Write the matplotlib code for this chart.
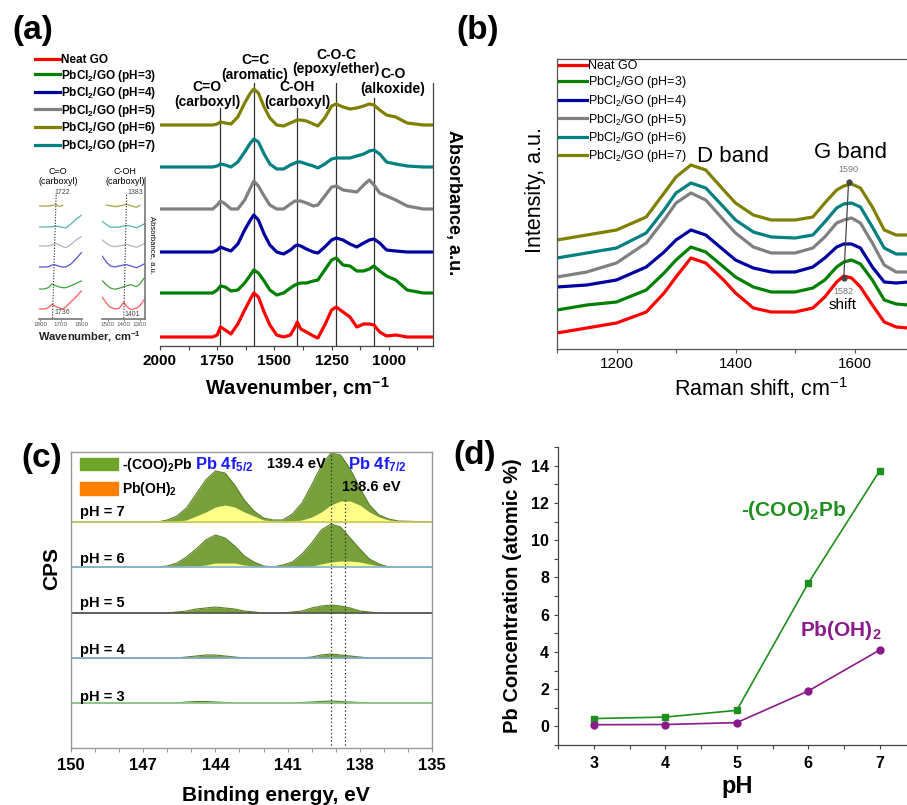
"""
Four-panel figure: FTIR (a), Raman (b), XPS Pb 4f (c) and Pb concentration vs pH (d)
for PbCl2/GO samples. Values are read off the reference figure.
"""
import matplotlib
matplotlib.use("Agg")
import matplotlib.pyplot as plt
from matplotlib.ticker import MultipleLocator
from matplotlib.lines import Line2D
from matplotlib.patches import Patch

W, H = 907, 805

plt.rcParams["font.family"] = ["Liberation Sans", "DejaVu Sans"]
plt.rcParams["mathtext.fontset"] = "custom"
plt.rcParams["mathtext.rm"] = "Liberation Sans"
plt.rcParams["mathtext.bf"] = "Liberation Sans:bold"
plt.rcParams["mathtext.default"] = "regular"

# ---------------- panel (a): FTIR ----------------
FTIR_WN = [2000, 1850, 1770, 1750, 1736, 1715, 1690, 1660, 1630, 1605,
           1590, 1570, 1545, 1520, 1490, 1460, 1430, 1410, 1400, 1385,
           1360, 1330, 1310, 1280, 1250, 1230, 1200, 1170, 1140, 1110,
           1085, 1065, 1040, 1010, 970, 920, 850, 810]
FTIR_NEAT = [0, 0, 0, 2, 10, 7, 3, 13, 27, 38, 44, 40, 25, 12, 2, 0, 2, 10, 15, 8,
             5, 1, -1, 12, 27, 30, 25, 20, 10, 13, 13, 12, 5, 1, 2, 0, 0, 0]
FTIR_PH3 = [0, 0, 0, 3, 7, 6, 2, 3, 10, 18, 23, 20, 12, 3, -2, 0, 5, 8, 9, 10,
            10, 12, 13, 23, 33, 35, 28, 27, 22, 22, 24, 27, 22, 17, 13, 3, 0, 0]
FTIR_PH4 = [0, 0, 0, 2, 5, 3, 1, 8, 22, 32, 37, 32, 18, 7, 0, -2, 2, 6, 7, 6,
            3, 0, -1, 5, 12, 14, 12, 8, 5, 9, 12, 13, 9, 2, 1, 0, 0, 0]
FTIR_PH5 = [0, 0, 0, 4, 8, 5, 0, 0, 9, 21, 28, 23, 13, 4, 0, 0, 5, 8, 8, 8,
            6, 3, 4, 13, 22, 23, 19, 18, 17, 24, 29, 24, 16, 13, 9, 3, 0, 0]
FTIR_PH6 = [0, 0, 0, 1, 3, 2, 1, 8, 22, 32, 36, 32, 18, 7, 0, -1, 2, 4, 5, 5,
            4, 1, -1, 7, 19, 21, 18, 16, 17, 19, 21, 20, 15, 10, 8, 2, 0, 0]
FTIR_PH7 = [0, 0, 0, 1, 3, 2, 0, 5, 15, 24, 28, 25, 13, 3, -2, -2, 2, 4, 5, 5,
            3, 1, -1, 3, 8, 9, 9, 9, 11, 13, 16, 17, 13, 5, 3, 1, 0, 0]
FTIR_LABELS = ["Neat GO", "PbCl$_2$/GO (pH=3)", "PbCl$_2$/GO (pH=4)",
               "PbCl$_2$/GO (pH=5)", "PbCl$_2$/GO (pH=6)", "PbCl$_2$/GO (pH=7)"]
FTIR_COLORS = ["#ff0000", "#008000", "#0000a0", "#808080", "#808000", "#008080"]
FTIR_OFFSETS = [9, 53, 94, 137, 221, 179]
FTIR_TICKS = [2000, 1750, 1500, 1250, 1000]

PEAK_WN = [1736, 1590, 1400, 1230, 1065]
PEAK_LABELS = ["C=O\n(carboxyl)", "C=C\n(aromatic)", "C-OH\n(carboxyl)",
               "C-O-C\n(epoxy/ether)", "C-O\n(alkoxide)"]

# insets: zoom on C=O and C-OH regions (bottom to top: neat, pH3, pH4, pH5, pH7, pH6)
INSET1_WN = [1805, 1780, 1760, 1742, 1725, 1705, 1690, 1675, 1650, 1625, 1600]
INSET1_Y = [[0, 0, 1.3, 4.7, 2.7, 0.7, 0, 2.3, 7.3, 12.3, 18],
            [0, 0, 1.3, 5, 3.3, 2, 1.3, 1.3, 3.3, 5.7, 8],
            [0, 0, 0.3, 2, 2, 0.5, 0, 0, 3, 8.5, 14.3],
            [0, 0, 0, 1, 2.7, 1, -0.7, -1.7, 1.7, 6, 9.3],
            [0, 0, 0, 0.3, 1, 0.3, -0.3, -1, 3, 8, 11.7],
            [0, 0, 0, 0.5, 1.3, -0.5, 0.8]]
INSET2_WN = [1535, 1510, 1485, 1455, 1430, 1401, 1383, 1355, 1322, 1300, 1270]
INSET2_Y = [[11.7, 6, 1.7, 0, 0.7, 6.7, 2.7, -0.7, 0.7, 3.3, 10],
            [8.3, 4.3, 1, -0.3, 0.7, 2.3, 3.3, 4.3, 2.3, 5, 11.7],
            [10.7, 5, 1, 0, 1, 2, 2.3, 1, -0.7, 0.7, 3.3],
            [6, 2.7, 0.3, -0.7, 0, 1, 1.7, 0.3, -1.3, 0, 2.7],
            [5.7, 2.3, 0, -0.3, 0, 1, 1.7, 0.7, -0.7, 0.7, 3.3],
            [1, 0.3, -0.7, 0, 1, 1.7, 0.3, -1.3, 0.7]]
INSET_COLORS = ["#ff5a5a", "#3fa33f", "#5555d5", "#b5b5b5", "#55b5b5", "#a5a545"]
INSET_OFFSETS = [10, 30, 52, 73, 92, 113]

# ---------------- panel (b): Raman ----------------
RAMAN_X = [1100, 1150, 1200, 1250, 1280, 1300, 1325, 1350, 1380, 1400, 1430, 1460,
           1500, 1530, 1550, 1570, 1582, 1595, 1610, 1630, 1650, 1670, 1690]
RAMAN_NEAT = [16, 21, 26, 37, 56, 72, 91, 86, 69, 56, 41, 37, 37, 41, 52, 67, 73, 71, 62, 44, 27, 22, 21]
RAMAN_PH3 = [39, 44, 47, 59, 76, 89, 102, 97, 82, 72, 62, 57, 57, 61, 69, 82, 87, 89, 85, 69, 49, 45, 44]
RAMAN_PH4 = [62, 64, 69, 82, 97, 109, 119, 114, 99, 89, 81, 77, 77, 82, 91, 102, 105, 105, 101, 82, 67, 66, 67]
RAMAN_PH5 = [72, 77, 86, 106, 129, 146, 156, 149, 129, 116, 102, 96, 96, 101, 112, 126, 129, 131, 126, 106, 84, 77, 77]
RAMAN_PH6 = [91, 96, 101, 116, 139, 156, 166, 161, 142, 129, 117, 112, 111, 114, 127, 141, 145, 146, 142, 122, 101, 95, 95]
RAMAN_PH7 = [109, 114, 119, 132, 156, 172, 184, 179, 159, 146, 134, 129, 129, 132, 146, 159, 163, 165, 161, 142, 119, 114, 114]
RAMAN_COLORS = ["#ff0000", "#008000", "#0000a0", "#808080", "#008080", "#808000"]
RAMAN_TICKS = [1200, 1400, 1600]
G_SHIFT_X = [1590, 1582]
G_SHIFT_Y = [167, 71]

# ---------------- panel (c): XPS Pb 4f ----------------
XPS_E = [150, 146.8, 146.4, 146.0, 145.6, 145.2, 144.8, 144.4, 144.0, 143.6,
         143.2, 142.8, 142.4, 142.0, 141.6, 141.2, 140.8, 140.4, 140.0, 139.6,
         139.2, 138.8, 138.4, 138.0, 137.6, 137.2, 136.8, 136.4, 135]
XPS_TOTAL_PH7 = [0, 0, 0, 2, 6, 14, 28, 42, 51, 49, 37, 22, 11, 4, 2, 2, 8, 19, 37, 56,
                 69, 67, 53, 34, 17, 7, 3, 1, 0]
XPS_OH_PH7 = [0, 0, 0, 0, 1, 2, 6, 10, 15, 17, 15, 10, 6, 2, 1, 0, 1, 2, 5, 10,
              17, 21, 21, 17, 10, 5, 2, 1, 0]
XPS_TOTAL_PH6 = [0, 0, 0, 1, 4, 10, 18, 27, 32, 29, 21, 11, 5, 1, 0, 2, 5, 13, 24, 37,
                 43, 40, 29, 18, 8, 3, 0, 0, 0]
XPS_OH_PH6 = [0, 0, 0, 0, 0, 1, 1, 2, 4, 4, 4, 2, 1, 0, 0, 0, 0, 0, 1, 3,
              5, 6, 6, 5, 3, 1, 0, 0, 0]
XPS_TOTAL_PH5 = [0, 0, 0, 0, 1, 2, 4, 5, 6, 5, 4, 2, 1, 0, 0, 0, 1, 2, 5, 7,
                 8, 7, 5, 2, 1, 0, 0, 0, 0]
XPS_TOTAL_PH4 = [0, 0, 0, 0, 0, 1, 2, 3, 3, 2, 1, 0, 0, 0, 0, 0, 0, 0, 1, 3,
                 4, 3, 2, 1, 0, 0, 0, 0, 0]
XPS_TOTAL_PH3 = [0, 0, 0, 0, 0, 1, 1.5, 1.5, 1, 0.5, 0, 0, 0, 0, 0, 0, 0, 0.5, 1, 1.5,
                 2, 1.5, 1, 0.5, 0, 0, 0, 0, 0]
XPS_ZERO = [0] * len(XPS_E)
XPS_PH_LABELS = ["pH = 7", "pH = 6", "pH = 5", "pH = 4", "pH = 3"]
XPS_BASE = [226, 181, 135, 90, 45]
XPS_LINE_COLORS = ["#c8c85a", "#80b4d4", "#555555", "#80aad4", "#8cc88c"]
XPS_TICKS = [150, 147, 144, 141, 138, 135]
XPS_MARKS = [139.2, 138.6]

# ---------------- panel (d): concentration ----------------
PH = [3, 4, 5, 6, 7]
CONC_COO = [0.42, 0.5, 0.86, 7.69, 13.73]
CONC_OH = [0.09, 0.1, 0.2, 1.9, 4.1]


def px_axes(fig, x0, y0, x1, y1):
    # axes from pixel box (top-left origin)
    return fig.add_axes([x0 / W, 1 - y1 / H, (x1 - x0) / W, (y1 - y0) / H])


def ftext(fig, x, y, s, **kw):
    kw.setdefault("ha", "center")
    kw.setdefault("va", "center")
    return fig.text(x / W, 1 - y / H, s, **kw)


def panel_a(fig):
    ax = px_axes(fig, 160, 83, 433, 346)
    series = [FTIR_NEAT, FTIR_PH3, FTIR_PH4, FTIR_PH5, FTIR_PH6, FTIR_PH7]
    for vals, off, color in zip(series, FTIR_OFFSETS, FTIR_COLORS):
        ax.plot(FTIR_WN, [v + off for v in vals], color=color, lw=2.3,
                solid_joinstyle="round", solid_capstyle="round")
    ax.set_xlim(2000, 807)
    ax.set_ylim(0, 263)
    tops = [0.905, 1.0, 0.905, 1.0, 0.943]
    for wn, top in zip(PEAK_WN, tops):
        ax.axvline(wn, ymin=0, ymax=top, color="#333333", lw=0.9, zorder=0)
    for s in ["left", "top"]:
        ax.spines[s].set_visible(False)
    for s in ["bottom", "right"]:
        ax.spines[s].set_color("#444444")
        ax.spines[s].set_linewidth(0.9)
    ax.yaxis.set_visible(False)
    ax.set_xticks(FTIR_TICKS, [str(t) for t in FTIR_TICKS], fontweight="bold", fontsize=11)
    ax.xaxis.set_minor_locator(MultipleLocator(125))
    ax.tick_params(axis="x", which="both", direction="out", length=3, width=0.8,
                   color="#444444", pad=3)

    label_pos = [(207, 94.5), (255, 67.5), (297, 94.5), (336, 62), (393, 81.5)]
    for text, (x, y) in zip(PEAK_LABELS, label_pos):
        ftext(fig, x, y, text, fontsize=10, fontweight="bold", linespacing=1.05)

    ftext(fig, 297, 388, "Wavenumber, cm$^{-1}$", fontsize=14.5, fontweight="bold")
    ftext(fig, 453, 203, "Absorbance, a.u.", fontsize=13, fontweight="bold", rotation=-90)
    ftext(fig, 33, 30, "(a)", fontsize=24, fontweight="bold")

    handles = [Line2D([], [], color=c, lw=2.3) for c in FTIR_COLORS]
    fig.legend(handles, FTIR_LABELS, loc="upper left",
               bbox_to_anchor=(35 / W, 1 - 54 / H), frameon=False,
               prop={"weight": "bold", "size": 8.5}, handlelength=2.1,
               handletextpad=0.1, labelspacing=0.13, borderpad=0, borderaxespad=0)

    # inset 1: C=O region
    a1 = px_axes(fig, 39, 178, 82, 319)
    for wn_vals, off, color in zip(INSET1_Y, INSET_OFFSETS, INSET_COLORS):
        a1.plot(INSET1_WN[:len(wn_vals)], [v + off for v in wn_vals], color=color, lw=0.9)
    a1.plot([1722, 1740], [124, 0], color="#222222", lw=0.8, ls=(0, (1, 1.5)))
    a1.set_xlim(1805, 1597)
    a1.set_ylim(0, 141)
    # inset 2: C-OH region
    a2 = px_axes(fig, 102, 178, 145, 319)
    for wn_vals, off, color in zip(INSET2_Y, INSET_OFFSETS, INSET_COLORS):
        xs = INSET2_WN if len(wn_vals) == len(INSET2_WN) else INSET2_WN[1:1 + len(wn_vals)]
        a2.plot(xs, [v + off for v in wn_vals], color=color, lw=0.9)
    a2.plot([1383, 1401], [124, 0], color="#222222", lw=0.8, ls=(0, (1, 1.5)))
    a2.set_xlim(1537, 1268)
    a2.set_ylim(0, 141)
    for a, ticks in [(a1, [1800, 1700, 1600]), (a2, [1500, 1400, 1300])]:
        for s in ["left", "top", "right"]:
            a.spines[s].set_visible(False)
        a.spines["bottom"].set_color("#777777")
        a.spines["bottom"].set_linewidth(1.2)
        a.set_yticks([])
        a.set_xticks(ticks, [str(t) for t in ticks], fontsize=4.5, color="#555555")
        a.tick_params(axis="x", length=1.5, width=0.6, color="#777777", pad=1)
        a.patch.set_alpha(0)
    a2.spines["right"].set_visible(True)
    a2.spines["right"].set_color("#777777")
    a2.spines["right"].set_linewidth(1.2)

    ftext(fig, 58, 172, "C=O", fontsize=6.5)
    ftext(fig, 58, 182, "(carboxyl)", fontsize=6.5)
    ftext(fig, 125, 172, "C-OH", fontsize=6.5)
    ftext(fig, 125, 182, "(carboxyl)", fontsize=6.5)
    ftext(fig, 62, 193, "1722", fontsize=5, color="#444444")
    ftext(fig, 62, 312, "1736", fontsize=5, color="#444444")
    ftext(fig, 135, 193, "1383", fontsize=5, color="#444444")
    ftext(fig, 132, 315, "1401", fontsize=5, color="#444444")
    ftext(fig, 152, 245, "Absorbance, a.u.", fontsize=5.5, rotation=-90)
    ftext(fig, 89, 337, "Wavenumber, cm$^{-1}$", fontsize=8, fontweight="bold",
          color="#222222")


def panel_b(fig):
    ax = px_axes(fig, 557, 59, 973.5, 349)
    series = [RAMAN_NEAT, RAMAN_PH3, RAMAN_PH4, RAMAN_PH5, RAMAN_PH6, RAMAN_PH7]
    for vals, color in zip(series, RAMAN_COLORS):
        ax.plot(RAMAN_X, vals, color=color, lw=2.3, solid_joinstyle="round")
    ax.plot(G_SHIFT_X, G_SHIFT_Y, color="#444444", lw=0.9, marker="o", ms=3.5)
    ax.set_xlim(1100, 1800)
    ax.set_ylim(0, 290)
    for s in ax.spines.values():
        s.set_color("#555555")
        s.set_linewidth(0.9)
    ax.set_yticks([])
    ax.set_xticks(RAMAN_TICKS, [str(t) for t in RAMAN_TICKS], fontsize=11)
    ax.xaxis.set_minor_locator(MultipleLocator(100))
    ax.tick_params(axis="x", which="both", direction="out", length=3, width=0.8,
                   color="#555555", pad=3)

    handles = [Line2D([], [], color=c, lw=2.3) for c in RAMAN_COLORS]
    ax.legend(handles, FTIR_LABELS, loc="upper left",
              bbox_to_anchor=(559 / W, 1 - 60 / H), bbox_transform=fig.transFigure,
              frameon=False, fontsize=9, handlelength=2.2, handletextpad=0.15,
              labelspacing=0.2, borderpad=0, borderaxespad=0)

    ftext(fig, 697, 157, "D band", fontsize=16, ha="left")
    ftext(fig, 851, 152, "G band", fontsize=16)
    ftext(fig, 848, 170, "1590", fontsize=6.5, color="#777777")
    ftext(fig, 843, 291, "1582", fontsize=6.5, color="#777777")
    ftext(fig, 843, 305, "shift", fontsize=11)
    ftext(fig, 761, 388, "Raman shift, cm$^{-1}$", fontsize=15.5)
    ftext(fig, 535, 190, "Intensity, a.u.", fontsize=15.5, rotation=90)
    ftext(fig, 478, 30, "(b)", fontsize=24, fontweight="bold")


def panel_c(fig):
    ax = px_axes(fig, 71, 452, 432, 748)
    totals = [XPS_TOTAL_PH7, XPS_TOTAL_PH6, XPS_TOTAL_PH5, XPS_TOTAL_PH4, XPS_TOTAL_PH3]
    ohs = [XPS_OH_PH7, XPS_OH_PH6, XPS_ZERO, XPS_ZERO, XPS_ZERO]
    for tot, oh, base, lc in zip(totals, ohs, XPS_BASE, XPS_LINE_COLORS):
        ax.fill_between(XPS_E, base, [base + v for v in tot], color="#78a03a", lw=0)
        ax.fill_between(XPS_E, base, [base + v for v in oh], color="#ffff88", lw=0)
        ax.plot(XPS_E, [base + v for v in tot], color="#5d7f2a", lw=0.8)
        ax.axhline(base, color=lc, lw=1.2)
    ax.axvline(XPS_MARKS[0], ymin=0.01, ymax=1.0, color="#222222", lw=0.9, ls=(0, (1, 2)))
    ax.axvline(XPS_MARKS[1], ymin=0.01, ymax=0.84, color="#222222", lw=0.9, ls=(0, (1, 2)))
    ax.set_xlim(150, 135)
    ax.set_ylim(0, 296)
    for s in ax.spines.values():
        s.set_color("#999999")
        s.set_linewidth(1.0)
    ax.set_yticks([])
    ax.set_xticks(XPS_TICKS, [str(t) for t in XPS_TICKS], fontsize=12, fontweight="bold")
    ax.xaxis.set_minor_locator(MultipleLocator(1))
    ax.tick_params(axis="x", which="both", direction="out", length=3, width=0.8,
                   color="#999999", pad=4)

    label_y = [512, 559, 603, 650, 697]
    for text, y in zip(XPS_PH_LABELS, label_y):
        ftext(fig, 80, y, text, fontsize=10.5, fontweight="bold", ha="left")

    fig.legend([Patch(color="#6ea428"), Patch(color="#ff8000")],
               ["-(COO)$_2$Pb", "Pb(OH)$_2$"], loc="upper left",
               bbox_to_anchor=(80 / W, 1 - 456 / H), frameon=False,
               prop={"weight": "bold", "size": 10}, handlelength=2.7, handleheight=1.0,
               handletextpad=0.35, labelspacing=0.45, borderpad=0, borderaxespad=0)
    ftext(fig, 195, 465, "Pb 4f$_{5/2}$", fontsize=12, fontweight="bold", color="#1a1aff", ha="left")
    ftext(fig, 267, 464, "139.4 eV", fontsize=10.5, fontweight="bold", ha="left")
    ftext(fig, 348, 465, "Pb 4f$_{7/2}$", fontsize=12, fontweight="bold", color="#1a1aff", ha="left")
    ftext(fig, 342, 487, "138.6 eV", fontsize=10.5, fontweight="bold", ha="left")
    ftext(fig, 276, 795, "Binding energy, eV", fontsize=15, fontweight="bold")
    ftext(fig, 52, 568, "CPS", fontsize=15, fontweight="bold", rotation=90)
    ftext(fig, 42, 458, "(c)", fontsize=24, fontweight="bold")


def panel_d(fig):
    ax = px_axes(fig, 558, 447, 915.5, 745)
    ax.plot(PH, CONC_COO, color="#1f8f1f", lw=1.2, marker="s", ms=5)
    ax.plot(PH, CONC_OH, color="#8b1a8b", lw=1.2, marker="o", ms=5)
    ax.set_xlim(2.5, 7.5)
    ax.set_ylim(-1, 15)
    for s in ["top", "right"]:
        ax.spines[s].set_visible(False)
    for s in ["left", "bottom"]:
        ax.spines[s].set_color("#444444")
        ax.spines[s].set_linewidth(0.9)
    yt = list(range(0, 15, 2))
    ax.set_yticks(yt, [str(t) for t in yt], fontsize=11.5, fontweight="bold")
    ax.set_xticks(PH, [str(t) for t in PH], fontsize=11.5, fontweight="bold")
    ax.xaxis.set_minor_locator(MultipleLocator(0.5))
    ax.yaxis.set_minor_locator(MultipleLocator(1))
    ax.tick_params(which="both", direction="out", length=3, width=0.8, color="#444444")
    ax.tick_params(axis="x", pad=5)

    ftext(fig, 741, 510, "-(COO)$_2$Pb", fontsize=15, fontweight="bold",
          color="#1f8f1f", ha="left")
    ftext(fig, 800, 630, "Pb(OH)$_2$", fontsize=15, fontweight="bold",
          color="#8b1a8b", ha="left")
    ftext(fig, 512, 596, "Pb Concentration (atomic %)", fontsize=14.5,
          fontweight="bold", rotation=90)
    ftext(fig, 737, 786, "pH", fontsize=17, fontweight="bold")
    ftext(fig, 475, 455, "(d)", fontsize=24, fontweight="bold")


def main():
    fig = plt.figure(figsize=(W / 100, H / 100), dpi=100)
    panel_a(fig)
    panel_b(fig)
    panel_c(fig)
    panel_d(fig)
    fig.savefig("out.png", dpi=100)
    plt.close(fig)


if __name__ == "__main__":
    main()
